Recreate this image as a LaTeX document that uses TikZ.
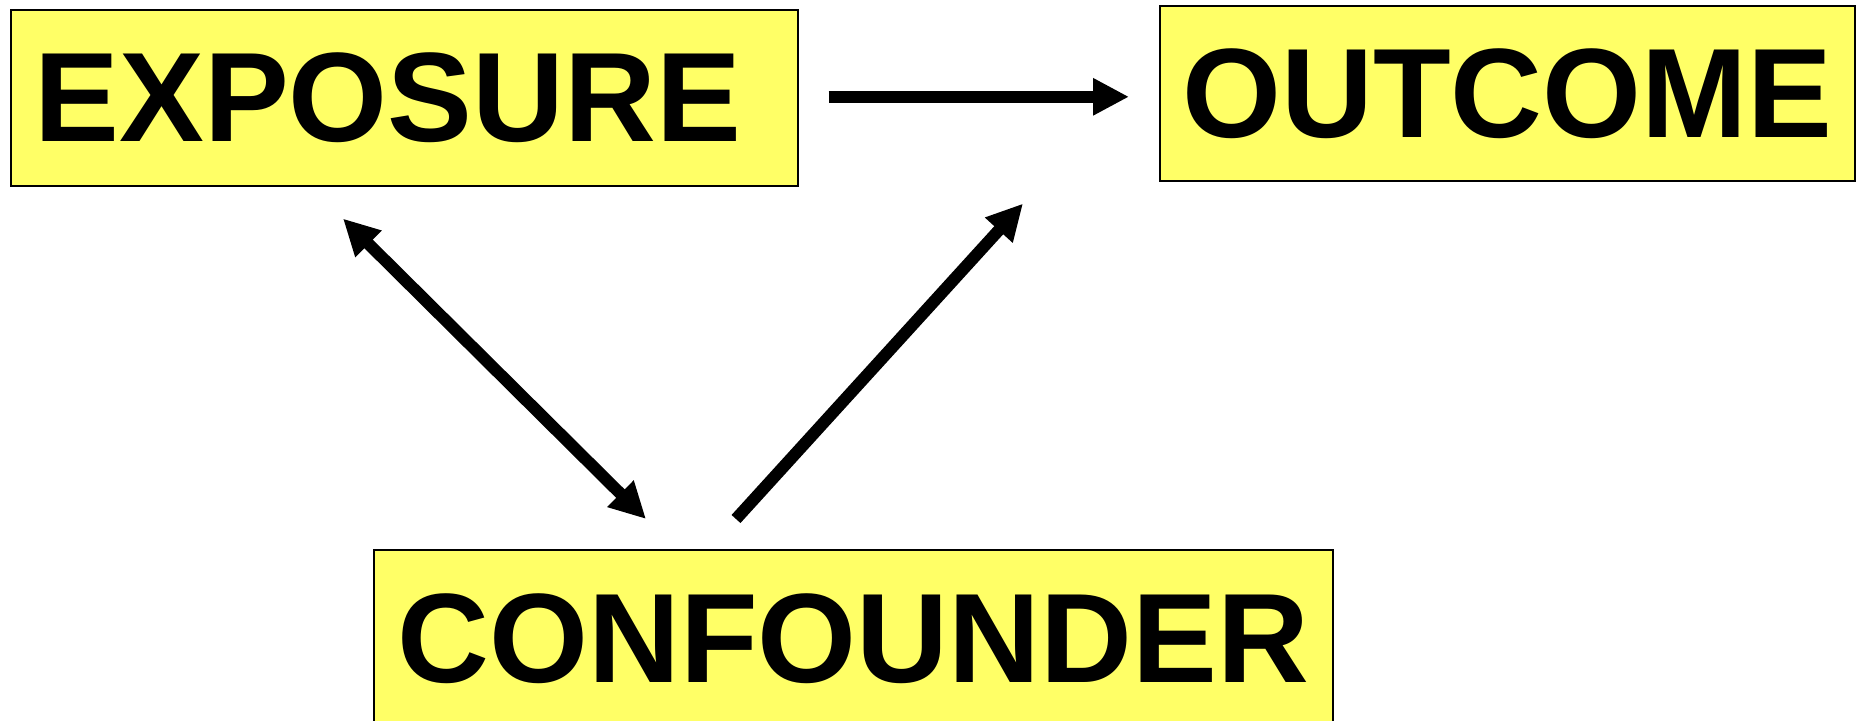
\documentclass[tikz,border=0pt]{standalone}
\usepackage{fontspec}
\setmainfont{Liberation Sans}
\usetikzlibrary{arrows.meta,calc}
\definecolor{boxyellow}{RGB}{255,255,102}
\begin{document}
\begin{tikzpicture}[x=0.5pt,y=-0.5pt,
  varbox/.style={draw=black,line width=0.8pt,fill=boxyellow,rectangle,anchor=north west,
    inner sep=0pt,font=\fontsize{63.6}{76}\selectfont\bfseries,text=black},
  arr/.style={line width=6pt,-{Triangle[length=18pt,width=17.5pt]}},
  darr/.style={line width=6pt,{Triangle[length=18pt,width=17.5pt]}-{Triangle[length=18pt,width=17.5pt]}}]
\useasboundingbox (0,0) rectangle (1857,721);
\node[varbox,minimum width=393.5pt,minimum height=88pt] (exposure) at (10,9) {EXPOSURE\hspace*{16.5pt}};
\node[varbox,minimum width=347.5pt,minimum height=87.5pt] (outcome) at (1159,5) {OUTCOME};
\node[varbox,minimum width=479.5pt,minimum height=89pt] (confounder) at (373,549) {CONFOUNDER};
\coordinate (h1) at ($(exposure.east)+(30,-1)$);
\coordinate (h2) at ($(outcome.west)+(-30,3.5)$);
\coordinate (e1) at ($(exposure.south west)+(333,32)$);
\coordinate (c1) at ($(confounder.north west)+(273,-30)$);
\coordinate (c2) at ($(confounder.north west)+(363,-30)$);
\coordinate (o1) at ($(outcome.south west)+(-136,22)$);
\draw[arr] (h1) -- (h2);
\draw[darr] (e1) -- (c1);
\draw[arr] (c2) -- (o1);
\end{tikzpicture}
\end{document}
